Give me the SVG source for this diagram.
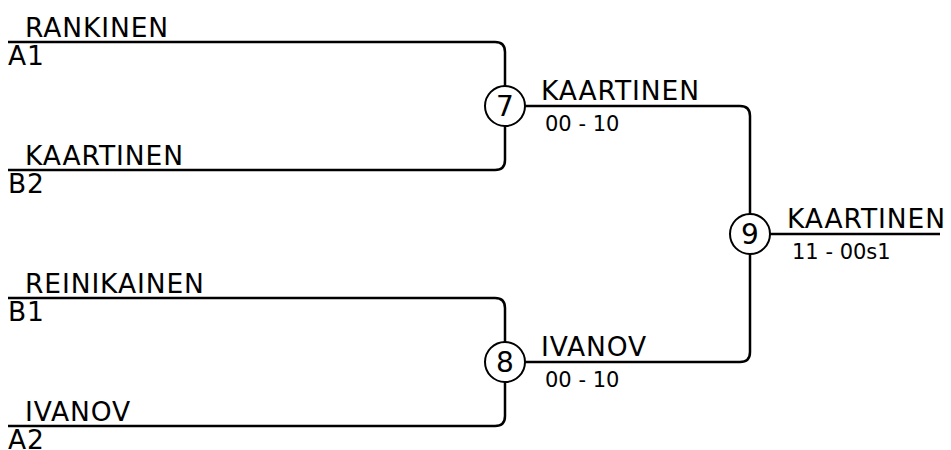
<svg xmlns="http://www.w3.org/2000/svg" width="951" height="450" viewBox="0 0 951 450">
<style>
.ln{fill:none;stroke:#000;stroke-width:2.5}
.nm{font-family:"DejaVu Sans",sans-serif;font-size:26.5px;letter-spacing:0.9px;fill:#000}
.sc{font-family:"DejaVu Sans",sans-serif;font-size:21px;fill:#000}
.cn{font-family:"DejaVu Sans",sans-serif;font-size:28px;fill:#000;text-anchor:middle}
.c{fill:#fff;stroke:#000;stroke-width:2}
</style>
<rect width="951" height="450" fill="#fff"/>
<g id="connectors">
<path class="ln" d="M8,42 H495 Q505,42 505,52 V160 Q505,170 495,170 H8"/>
<path class="ln" d="M8,298 H495 Q505,298 505,308 V416 Q505,426 495,426 H8"/>
<path class="ln" d="M505,106 H740 Q750,106 750,116 V352 Q750,362 740,362 H505"/>
<path class="ln" d="M750,234 H940"/>
</g>
<g id="p1"><text class="nm" x="25" y="37">RANKINEN</text><text class="nm" x="8" y="65">A1</text></g>
<g id="p2"><text class="nm" x="25" y="165">KAARTINEN</text><text class="nm" x="8" y="193">B2</text></g>
<g id="p3"><text class="nm" x="25" y="293">REINIKAINEN</text><text class="nm" x="8" y="321">B1</text></g>
<g id="p4"><text class="nm" x="25" y="421">IVANOV</text><text class="nm" x="8" y="449">A2</text></g>
<g id="m7"><circle class="c" cx="505" cy="106" r="20"/><text class="cn" x="505" y="116">7</text>
<text class="nm" x="541" y="100">KAARTINEN</text><text class="sc" x="545" y="131">00 - 10</text></g>
<g id="m8"><circle class="c" cx="505" cy="362" r="20"/><text class="cn" x="505" y="372">8</text>
<text class="nm" x="541" y="356">IVANOV</text><text class="sc" x="545" y="387">00 - 10</text></g>
<g id="m9"><circle class="c" cx="750" cy="234" r="20"/><text class="cn" x="750" y="244">9</text>
<text class="nm" x="787" y="228">KAARTINEN</text><text class="sc" x="792" y="259">11 - 00s1</text></g>
</svg>
